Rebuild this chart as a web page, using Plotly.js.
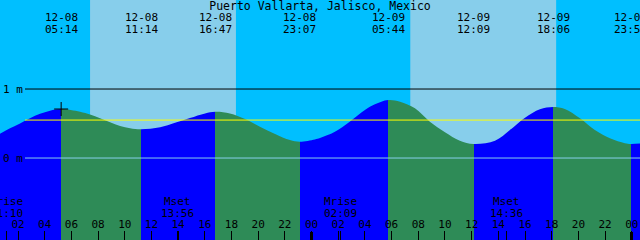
<!DOCTYPE html>
<html><head><meta charset="utf-8">
<script src="https://cdn.plot.ly/plotly-3.0.1.min.js"></script>
<style>html,body{margin:0;padding:0;background:#00BFFF}#chart{width:640px;height:240px}</style>
</head><body><div id="chart"></div>
<script>
// ---- data ----
const tideTimes = [
 '2023-12-08 00:39','2023-12-08 01:24','2023-12-08 02:09','2023-12-08 02:54','2023-12-08 03:39','2023-12-08 04:24',
 '2023-12-08 05:14','2023-12-08 06:39','2023-12-08 07:24','2023-12-08 08:09','2023-12-08 08:54','2023-12-08 09:39',
 '2023-12-08 10:24','2023-12-08 11:14','2023-12-08 12:39','2023-12-08 13:46','2023-12-08 14:53','2023-12-08 16:01',
 '2023-12-08 16:47','2023-12-08 17:53','2023-12-08 19:01','2023-12-08 20:08','2023-12-08 21:16','2023-12-08 22:23',
 '2023-12-08 23:07','2023-12-09 00:15','2023-12-09 00:38','2023-12-09 01:45','2023-12-09 02:53','2023-12-09 04:00',
 '2023-12-09 04:45','2023-12-09 05:44','2023-12-09 06:38','2023-12-09 07:45','2023-12-09 08:52','2023-12-09 10:00',
 '2023-12-09 11:07','2023-12-09 12:09','2023-12-09 13:45','2023-12-09 14:52','2023-12-09 16:00','2023-12-09 17:07',
 '2023-12-09 18:06','2023-12-09 18:59','2023-12-09 20:07','2023-12-09 21:14','2023-12-09 22:22','2023-12-09 23:29',
 '2023-12-09 23:55','2023-12-10 00:37'];
const tideHeights = [
 0.35,0.43,0.50,0.575,0.64,0.686,
 0.71,0.67,0.63,0.575,0.517,0.464,
 0.43,0.416,0.445,0.51,0.58,0.647,
 0.67,0.647,0.565,0.454,0.348,0.26,
 0.236,0.27,0.29,0.38,0.53,0.696,
 0.778,0.84,0.816,0.72,0.526,0.372,
 0.25,0.203,0.25,0.406,0.584,0.706,
 0.739,0.71,0.575,0.406,0.285,0.213,
 0.203,0.21];
const extremeTimes = ['2023-12-08 05:14','2023-12-08 11:14','2023-12-08 16:47','2023-12-08 23:07',
                      '2023-12-09 05:44','2023-12-09 12:09','2023-12-09 18:06','2023-12-09 23:55'];
const extremeDates = ['12-08','12-08','12-08','12-08','12-09','12-09','12-09','12-09'];
const extremeClock = ['05:14','11:14','16:47','23:07','05:44','12:09','18:06','23:55'];
const sunriseTimes = ['2023-12-08 07:24','2023-12-09 07:24'];
const sunsetTimes  = ['2023-12-08 18:20','2023-12-09 18:20'];
const moonTimes  = ['2023-12-08 01:10','2023-12-08 13:56','2023-12-09 02:09','2023-12-09 14:36'];
const moonEvents = ['Mrise','Mset','Mrise','Mset'];
const moonClock  = ['01:10','13:56','02:09','14:36'];
const midnightTimes = ['2023-12-09 00:00','2023-12-10 00:00'];
const meanSeaLevel = 0.55;
const levelTicks = [0, 1];
const levelTickText = ['0 m', '1 m'];
const titleText = 'Puerto Vallarta, Jalisco, Mexico';

// ---- styling / layout ----
const xRange = ['2023-12-08 00:39', '2023-12-10 00:37'];
const yRange = [-1.188, 2.29];
const FONT = 'DejaVu Sans Mono';
const NIGHT = '#00BFFF', DAY = '#87CEEB', FLOOD = '#0000FF', EBB = '#2E8B57';

// rising (flood) / falling (ebb) colour bands under the curve, as a hard-stop horizontal gradient
const toMs = s => Date.parse(s.replace(' ', 'T') + ':00Z');
const t0 = toMs(tideTimes[0]), tN = toMs(tideTimes[tideTimes.length - 1]);
const cutIdx = [0].concat(extremeTimes.map(t => tideTimes.indexOf(t)).filter(i => i > 0 && i < tideTimes.length - 1), [tideTimes.length - 1]);
const scale = [];
for (let k = 0; k < cutIdx.length - 1; k++) {
  const a = cutIdx[k], b = cutIdx[k + 1];
  const col = tideHeights[b] > tideHeights[a] ? FLOOD : EBB;
  scale.push([(toMs(tideTimes[a]) - t0) / (tN - t0), col]);
  scale.push([(toMs(tideTimes[b]) - t0) / (tN - t0), col]);
}
scale[0][0] = 0; scale[scale.length - 1][0] = 1;

const traces = [];
traces.push({x:[tideTimes[0], tideTimes[tideTimes.length-1]], y:[yRange[0], yRange[0]], mode:'lines',
  line:{width:0, color:'rgba(0,0,0,0)'}, hoverinfo:'skip', showlegend:false});
traces.push({x:tideTimes, y:tideHeights, mode:'lines', line:{width:0, shape:'spline', color:'rgba(0,0,0,0)'},
  fill:'tonexty', fillcolor:FLOOD, fillgradient:{type:'horizontal', colorscale:scale}, hoverinfo:'skip', showlegend:false});
// plus marker at first high tide
traces.push({x:[extremeTimes[0]], y:[tideHeights[tideTimes.indexOf(extremeTimes[0])]], mode:'markers',
  marker:{symbol:'cross-thin', size:10, line:{color:'black', width:1}}, hoverinfo:'skip', showlegend:false});

const shapes = [];
for (let i = 0; i < sunriseTimes.length; i++) {
  shapes.push({type:'rect', layer:'below', xref:'x', yref:'paper', x0:sunriseTimes[i], x1:sunsetTimes[i], y0:0, y1:1, fillcolor:DAY, line:{width:0}});
}
const lvlColors = ['#87CEEB', '#000000'];
levelTicks.forEach((v, i) => shapes.push({type:'line', layer:'above', xref:'paper', yref:'y', x0:25/640, x1:1, y0:v, y1:v, line:{color:lvlColors[i], width:1}}));
shapes.push({type:'line', layer:'above', xref:'paper', yref:'y', x0:25/640, x1:1, y0:meanSeaLevel, y1:meanSeaLevel, line:{color:'#FFFF00', width:1}});

const annotations = [];
const tf = {family:FONT, size:11, color:'black'};
levelTicks.forEach((v, i) => annotations.push({x:0, xref:'paper', xanchor:'left', xshift:1, y:v, yref:'y', yanchor:'middle',
  text:levelTickText[i], showarrow:false, font:tf}));
extremeTimes.forEach((t, i) => {
  annotations.push({x:t, xref:'x', yref:'paper', y:1-17.5/240, yanchor:'middle', xanchor:'center', text:extremeDates[i], showarrow:false, font:tf});
  annotations.push({x:t, xref:'x', yref:'paper', y:1-29.5/240, yanchor:'middle', xanchor:'center', text:extremeClock[i], showarrow:false, font:tf});
});
moonTimes.forEach((t, i) => {
  annotations.push({x:t, xref:'x', yref:'paper', y:1-201.5/240, yanchor:'middle', xanchor:'center', text:moonEvents[i], showarrow:false, font:tf});
  annotations.push({x:t, xref:'x', yref:'paper', y:1-213.5/240, yanchor:'middle', xanchor:'center', text:moonClock[i], showarrow:false, font:tf});
});

const layout = {
  width:640, height:240, margin:{l:0, r:0, t:0, b:0, pad:0},
  paper_bgcolor:NIGHT, plot_bgcolor:NIGHT,
  title:{text:titleText, x:0.5, xanchor:'center', xref:'paper', y:1-6/240, yref:'container', yanchor:'middle', font:{family:FONT, size:11.5, color:'black'}},
  showlegend:false,
  xaxis:{type:'date', range:xRange, tick0:'2023-12-08 00:00', dtick:7200000, tickformat:'%H',
         ticks:'inside', ticklen:9, tickwidth:1, tickcolor:'black', ticklabelposition:'inside', ticklabelstandoff:0,
         tickfont:tf, showgrid:false, zeroline:false, showline:false, fixedrange:true},
  xaxis2:{type:'date', range:xRange, overlaying:'x', anchor:'y', side:'bottom', tickmode:'array', tickvals:midnightTimes,
         ticks:'inside', ticklen:8, tickwidth:3, tickcolor:'black', showticklabels:false, showgrid:false, zeroline:false, showline:false},
  xaxis3:{type:'date', range:xRange, overlaying:'x', anchor:'y', side:'bottom', tickmode:'array', tickvals:moonTimes,
         ticks:'inside', ticklen:9, tickwidth:1, tickcolor:'black', showticklabels:false, showgrid:false, zeroline:false, showline:false},
  yaxis:{range:yRange, showticklabels:false, ticks:'', showgrid:false, zeroline:false, showline:false, fixedrange:true},
  shapes:shapes, annotations:annotations
};
// invisible traces so the overlay tick axes are drawn
traces.push({x:[xRange[0]], y:[yRange[0]], xaxis:'x2', mode:'none', hoverinfo:'skip', showlegend:false});
traces.push({x:[xRange[0]], y:[yRange[0]], xaxis:'x3', mode:'none', hoverinfo:'skip', showlegend:false});

Plotly.newPlot('chart', traces, layout, {staticPlot:true, displayModeBar:false});
</script></body></html>
